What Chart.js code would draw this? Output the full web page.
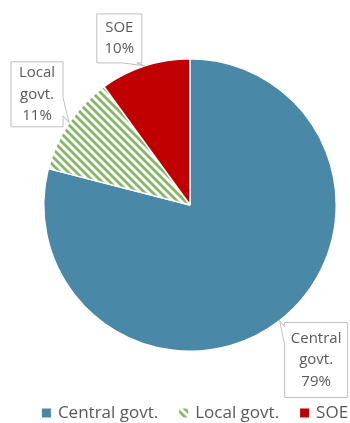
<!DOCTYPE html>
<html>
<head>
<meta charset="utf-8">
<script src="https://cdn.jsdelivr.net/npm/chart.js@4.4.0/dist/chart.umd.min.js"></script>
<style>
  html, body { margin: 0; padding: 0; background: #fff; }
  #wrap { width: 350px; height: 423px; }
</style>
</head>
<body>
<div id="wrap"><canvas id="pie" width="350" height="423"></canvas></div>
<script>
// ==== Data ====
const categories = ["Central govt.", "Local govt.", "SOE"];
const shares = [79, 11, 10];
const calloutLines = [["Central", "govt.", "79%"], ["Local", "govt.", "11%"], ["SOE", "10%"]];

const TEXT_COLOR = '#595959';
const FONT = '"Open Sans", "DejaVu Sans", sans-serif';

// ==== Hatch pattern for the local slice ====
function makeHatch() {
    const s = 8;
    const c = document.createElement('canvas');
    c.width = s; c.height = s;
    const g = c.getContext('2d');
    g.fillStyle = '#ffffff';
    g.fillRect(0, 0, s, s);
    g.strokeStyle = '#84b866';
    g.lineWidth = 2.8;
    g.beginPath();
    g.moveTo(-2, -2); g.lineTo(s + 2, s + 2);
    g.moveTo(-2, s - 2); g.lineTo(2, s + 2);
    g.moveTo(s - 2, -2); g.lineTo(s + 2, 2);
    g.stroke();
    return g.createPattern(c, 'repeat');
}

// box placement relative to the tip point, plus which edge carries the pointer
const calloutBoxes = [
    { dx: 5, dy: 2, w: 63, h: 75, side: 'left', a: 4, b: 22 },
    { dx: -58, dy: -61, w: 52, h: 65, side: 'right', a: 36, b: 54 },
    { dx: -48, dy: -52, w: 45, h: 49, side: 'bottom', a: 26, b: 40 }
];

function calloutPath(ctx, x, y, w, h, tx, ty, side, a, b) {
    ctx.beginPath();
    ctx.moveTo(x, y);
    if (side === 'top') { ctx.lineTo(x + a, y); ctx.lineTo(tx, ty); ctx.lineTo(x + b, y); }
    ctx.lineTo(x + w, y);
    if (side === 'right') { ctx.lineTo(x + w, y + a); ctx.lineTo(tx, ty); ctx.lineTo(x + w, y + b); }
    ctx.lineTo(x + w, y + h);
    if (side === 'bottom') { ctx.lineTo(x + b, y + h); ctx.lineTo(tx, ty); ctx.lineTo(x + a, y + h); }
    ctx.lineTo(x, y + h);
    if (side === 'left') { ctx.lineTo(x, y + b); ctx.lineTo(tx, ty); ctx.lineTo(x, y + a); }
    ctx.closePath();
}

// ==== Callout labels plugin ====
const calloutPlugin = {
    id: 'callouts',
    afterDatasetsDraw(chart) {
        const ctx = chart.ctx;
        const arcs = chart.getDatasetMeta(0).data;
        ctx.save();
        arcs.forEach((arc, i) => {
            const p = arc.getProps(['x', 'y', 'startAngle', 'endAngle', 'outerRadius'], true);
            const mid = (p.startAngle + p.endAngle) / 2;
            const tx = p.x + Math.cos(mid) * p.outerRadius;
            const ty = p.y + Math.sin(mid) * p.outerRadius;
            const box = calloutBoxes[i];
            const bx = tx + box.dx, by = ty + box.dy;
            calloutPath(ctx, bx, by, box.w, box.h, tx, ty, box.side, box.a, box.b);
            ctx.fillStyle = '#ffffff';
            ctx.fill();
            ctx.strokeStyle = '#bfbfbf';
            ctx.lineWidth = 1;
            ctx.stroke();

            const lines = calloutLines[i];
            const lh = 21.5;
            ctx.fillStyle = TEXT_COLOR;
            ctx.font = '15px ' + FONT;
            ctx.textAlign = 'center';
            ctx.textBaseline = 'middle';
            const top = by + box.h / 2 - (lines.length - 1) * lh / 2;
            lines.forEach((t, k) => ctx.fillText(t, bx + box.w / 2, top + k * lh));
        });
        ctx.restore();
    }
};

// ==== Legend row along the bottom (single line, full canvas width) ====
const legendRowPlugin = {
    id: 'legendRow',
    afterDraw(chart) {
        const ctx = chart.ctx;
        const ds = chart.data.datasets[0];
        const box = 9, gap = 7, itemGap = 21, y = 413;
        ctx.save();
        ctx.font = '17px ' + FONT;
        ctx.textBaseline = 'middle';
        ctx.textAlign = 'left';
        const widths = chart.data.labels.map(l => ctx.measureText(l).width);
        const total = widths.reduce((s, w) => s + box + gap + w, 0) + itemGap * (widths.length - 1);
        let x = 195 - total / 2;
        chart.data.labels.forEach((label, i) => {
            ctx.fillStyle = ds.backgroundColor[i];
            ctx.fillRect(x, y - box / 2, box, box);
            x += box + gap;
            ctx.fillStyle = TEXT_COLOR;
            ctx.fillText(label, x, y);
            x += widths[i] + itemGap;
        });
        ctx.restore();
    }
};

// ==== Chart ====
document.addEventListener('DOMContentLoaded', () => {
    const hatch = makeHatch();
    new Chart(document.getElementById('pie'), {
        type: 'pie',
        data: {
            labels: categories,
            datasets: [{
                data: shares,
                backgroundColor: ['#4a88a8', hatch, '#c00000'],
                borderColor: '#ffffff',
                borderWidth: 1.5
            }]
        },
        options: {
            responsive: false,
            animation: false,
            layout: { padding: { left: 43, right: 13, top: 14, bottom: 27 } },
            plugins: {
                tooltip: { enabled: false },
                legend: { display: false }
            }
        },
        plugins: [calloutPlugin, legendRowPlugin]
    });
});
</script>
</body>
</html>
